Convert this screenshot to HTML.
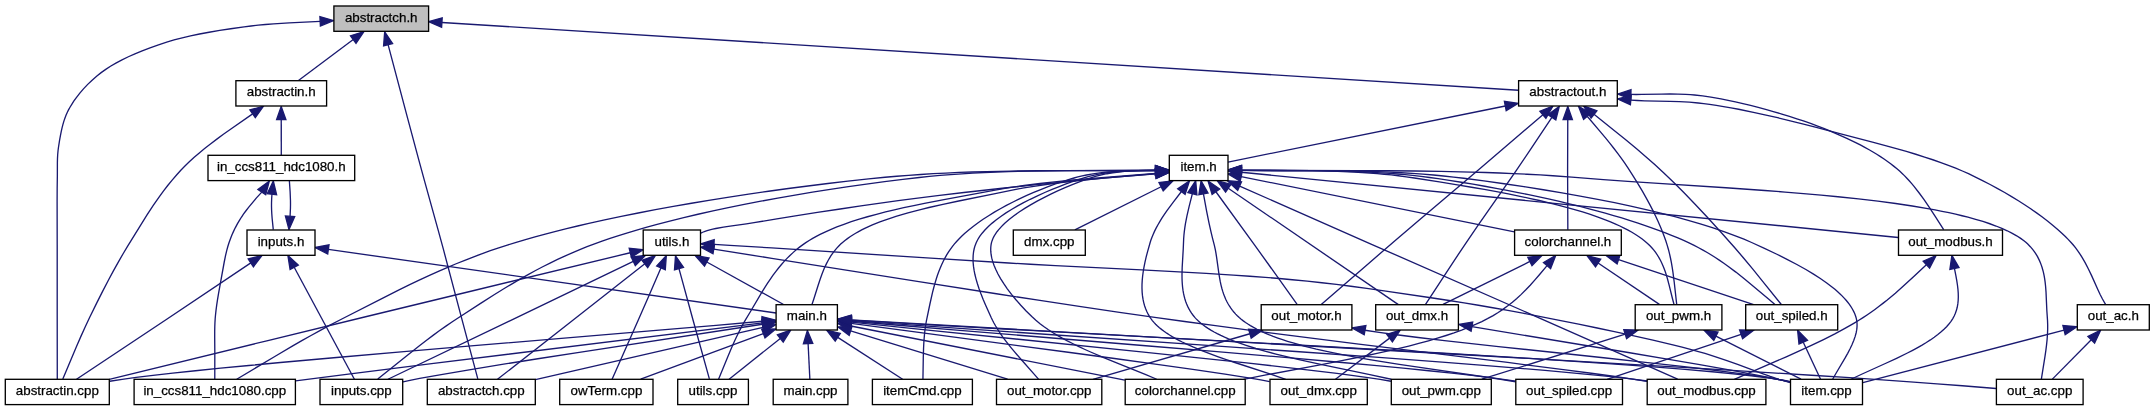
<!DOCTYPE html><html><head><meta charset="utf-8"><style>html,body{margin:0;padding:0;background:#fff;}svg{display:block;}text{font-family:"Liberation Sans",sans-serif;font-size:13.33px;fill:#000;stroke:#000;stroke-width:0.25px;}svg{will-change:transform;}</style></head><body>
<svg width="2155" height="411" viewBox="0 0 2155 411">
<rect width="2155" height="411" fill="#fff"/>
<g fill="none" stroke="#191970" stroke-width="1.33"><path d="M353.25,39.54 298.47,80.44"/><path d="M441.91,22.49 1518.5,90.22"/><path d="M320.15,21.3 289.28,22.84 273.58,23.82 265.41,24.48 258.25,25.17 251.09,25.98 244.1,26.89 230.79,28.76 219.72,30.45 209.09,32.24 199.51,34.02 190.54,35.89 182.22,37.83 174.1,39.95 166.7,42.13 158.5,44.84 150.04,47.84 142.17,50.84 134.93,53.82 128.36,56.75 121.99,59.84 115.88,63.1 110.47,66.27 105.74,69.34 101.15,72.64 96.6,76.26 91.85,80.41 87.71,84.38 83.47,88.87 79.83,93.09 76.17,97.8 73.92,100.98 72.08,103.78 70.13,106.99 68.51,109.92 67.35,112.25 66.1,115.09 64.98,117.98 63.98,120.9 62.95,124.34 62.05,127.81 61.26,131.29 60.47,135.27 59.6,140.2 58.45,147.51 58.01,150.97 57.68,154.8 57.48,158.56 57.38,162.8 57.35,175.99 57.17,188.67 57.11,201.17 57.2,244.99 57.2,313.92 57.28,378.95"/><path d="M388.08,44.65 407.59,118.06 418.37,158.31 424.72,181.58 438.03,229.57 443.56,249.94 461.01,315.88 477.81,378.91"/><path d="M281.24,119.69 281.28,154.97"/><path d="M252.62,113.86 230.91,128.97 223.4,134.33 216.85,139.13 210.45,143.98 204.6,148.58 199.31,152.93 194.2,157.34 189.3,161.81 184.94,166.03 180.8,170.3 176.55,174.95 172.15,180.06 167.93,185.23 163.58,190.86 159.41,196.55 153.43,205.17 147.18,214.7 141.14,224.3 127.66,246.14 122.96,253.99 118.16,262.31 113.26,271.11 108.51,279.95 102.97,290.59 96.91,302.61 89.48,317.79 85.16,326.94 81.02,336.12 76.6,346.26 62.82,379.08"/><path d="M1505.3,105.99 1228.03,162.05"/><path d="M1567.77,119.69 1567.6,171.01 1567.84,229.64"/><path d="M1630.89,94.42 1636.15,94.47 1641.85,94.45 1661.57,94.1 1669.94,94.03 1677.97,94.12 1685.64,94.39 1690.33,94.68 1694.55,95.01 1702.61,95.89 1710.92,97.12 1720.95,98.9 1728.09,100.32 1735.42,101.89 1742.92,103.6 1750.53,105.44 1758.21,107.4 1766.45,109.61 1774.17,111.78 1781.84,114.04 1789.42,116.38 1796.87,118.78 1804.16,121.23 1811.24,123.72 1817.62,126.07 1823.75,128.45 1829.19,130.66 1836.07,133.59 1846.84,138.4 1856.23,142.9 1860.77,145.21 1864.79,147.34 1869.15,149.75 1873,151.98 1876.76,154.27 1880.45,156.61 1884.06,159.03 1887.2,161.23 1890.66,163.78 1893.67,166.12 1896.98,168.83 1899.88,171.34 1902.16,173.43 1904.41,175.64 1906.65,177.95 1909.22,180.76 1911.74,183.67 1914.23,186.66 1919.37,193.25 1924.24,199.95 1929.66,207.85 1935.04,216.09 1943.67,229.68"/><path d="M1542.91,114.72 1478.31,169.95 1418.99,220.24 1396.12,239.74 1366.9,264.91 1321.23,304.55"/><path d="M1551.9,117.37 1531.22,148.43 1516.02,170.9 1504.9,186.99 1478.67,224.49 1465.92,243.09 1458.34,254.38 1450.28,266.53 1425.54,304.32"/><path d="M1587.18,116.3 1600.65,132.08 1605.51,137.91 1609.95,143.37 1613.98,148.47 1617.9,153.6 1621.39,158.36 1624.77,163.16 1628.28,168.43 1633.84,177.14 1638.17,184.15 1642.37,191.21 1646.16,197.87 1649.57,204.12 1652.82,210.4 1655.69,216.25 1658,221.23 1660.18,226.22 1662.24,231.23 1664.16,236.25 1665.79,240.83 1667.17,245.09 1668.43,249.45 1669.54,253.84 1670.52,258.25 1671.39,262.68 1672.24,267.61 1672.99,272.57 1674.26,282.51 1676.71,304.43"/><path d="M1593.99,114.34 1612.93,129.4 1625.11,139.24 1636.3,148.5 1646.11,156.89 1655.28,165.04 1664.12,173.27 1674.04,182.82 1684.05,192.82 1695.56,204.71 1707.8,217.78 1721.44,232.77 1735,248.01 1743.53,257.98 1752.83,269.18 1762.27,280.82 1781.3,304.53"/><path d="M1630.83,100.06 1637.57,100.49 1644.69,100.79 1669.89,101.35 1679.43,101.67 1689.23,102.21 1698.25,102.97 1703.69,103.58 1709.62,104.36 1716.3,105.35 1723.58,106.54 1731.02,107.85 1738.6,109.27 1754.61,112.54 1766.02,115.05 1777.58,117.72 1790.26,120.78 1803.52,124.09 1816.28,127.38 1838.89,133.34 1872.47,142.08 1885.43,145.54 1896.41,148.58 1906.37,151.44 1915.77,154.26 1924.58,157.03 1932.8,159.75 1940.89,162.57 1948.36,165.33 1955.68,168.2 1962.38,171 1968.48,173.7 1974.47,176.53 1982.54,180.55 1990.12,184.49 1997.67,188.58 2004.68,192.54 2011.6,196.61 2018.4,200.78 2024.62,204.76 2030.69,208.8 2036.59,212.91 2042.3,217.07 2047.8,221.27 2052.69,225.21 2057.71,229.48 2062.13,233.47 2065.35,236.54 2068.41,239.62 2071.3,242.7 2073.51,245.24 2075.62,247.87 2077.95,251.03 2079.84,253.8 2081.93,257.1 2084.99,262.39 2088.28,268.69 2091.72,275.89 2097.93,289.76 2100.13,294.49 2102.46,299.05 2105.67,304.6"/><path d="M271.95,194.25 271.68,198.48 271.53,202.49 271.5,206 271.6,210.01 271.81,214.02 272.15,218.54 273.28,229.6"/><path d="M290.08,216.31 290.45,208 290.5,204.5 290.47,200.49 290.13,191.98 289.38,180.99"/><path d="M261.79,192.11 256.25,198.11 248.58,207.42 245.98,210.77 243.44,214.21 241.36,217.25 239.74,219.83 237.49,223.69 235.39,227.58 233.65,231.13 232,234.8 230.46,238.65 229,242.7 227.9,246.21 226.77,250.38 225.52,255.71 224.19,262.25 218.48,293.89 217.48,299.85 216.66,305.33 216.01,310.31 215.48,315.3 215.18,318.8 214.94,322.81 214.79,326.83 214.71,331.36 214.7,337.41 214.81,351.99 214.78,379.01"/><path d="M328.36,249.39 776.1,312.97"/><path d="M250.82,262.91 167.1,319 76.51,379.23"/><path d="M294.19,267.23 354.4,379.19"/><path d="M1155.75,173.91 1143.69,174.93 1115.27,177.17 1103.27,178.2 1067.34,181.6 1034.17,184.9 1004.52,188.01 963.88,192.5 937.53,195.59 913.74,198.57 898.17,200.65 880.41,203.12 860.91,205.92 840.21,208.99 817.37,212.46 795.35,215.9 776.84,218.89 754.04,222.67 746.38,223.81 730.13,226.09 723.4,227.12 715.79,228.5 712.72,229.16 709.84,229.87 707.14,230.64 705,231.35 702.71,232.25 700.93,233.08"/><path d="M1155.81,173.7 1104,178.1 1088.42,179.56 1074.92,180.95 1061.01,182.54 1047.71,184.26 1035.5,186.05 1023.89,187.96 1017.18,189.18 1010.99,190.38 994.01,193.89 958.7,201.01 942.94,204.34 928.93,207.52 921.5,209.32 914.68,211.06 907.98,212.87 901.9,214.6 895.94,216.41 890.13,218.29 884.93,220.08 879.88,221.94 872.36,224.96 868.55,226.63 865.26,228.17 861.67,229.95 858.6,231.58 855.63,233.26 852.78,234.99 850.04,236.77 847.43,238.6 844.94,240.48 842.87,242.18 840.7,244.11 838.8,245.96 837.01,247.87 835.33,249.82 833.74,251.83 832.24,253.88 830.83,255.97 829.24,258.54 828,260.72 826.61,263.38 825.3,266.09 824.08,268.84 822.01,273.97 819.97,279.67 818.08,285.44 813.98,298.52 812.06,304.28"/><path d="M1161.12,186.74 1074.86,229.89"/><path d="M1241.09,176.59 1514.44,231.86"/><path d="M1241.22,172.23 1898.25,237.48"/><path d="M1215.9,191.76 1254.67,245.12 1297.13,304.27"/><path d="M1228.22,188.25 1398.39,304.6"/><path d="M1241.45,170.43 1289.61,170.55 1304.61,170.65 1322.12,170.9 1337.63,171.32 1354.15,172.03 1362.17,172.49 1369.68,173 1377.2,173.6 1384.23,174.23 1391.25,174.95 1398.28,175.76 1406.32,176.8 1414.37,177.97 1439.38,181.92 1457.39,184.84 1471.55,187.22 1484.28,189.45 1496.55,191.7 1508.29,193.95 1518.89,196.08 1529.43,198.31 1539.31,200.51 1549.05,202.81 1558.1,205.08 1566.45,207.29 1574.61,209.59 1582.57,211.97 1588.85,213.97 1594.51,215.87 1600.01,217.83 1605.34,219.84 1610.5,221.9 1615.06,223.84 1619.85,226.01 1624.05,228.05 1628.08,230.14 1631.91,232.28 1635.54,234.47 1638.97,236.71 1642.18,239.01 1644.91,241.15 1647.55,243.43 1649.95,245.75 1651.81,247.73 1653.87,250.18 1655.77,252.68 1657.5,255.25 1659.09,257.86 1660.54,260.53 1661.86,263.24 1663.27,266.45 1664.37,269.25 1665.37,272.08 1666.45,275.41 1667.45,278.77 1669.13,285.08 1672.5,298.75 1674.07,304.57"/><path d="M1241.41,170.4 1312.38,170.65 1330.85,170.89 1347.33,171.27 1364.84,171.93 1381.37,172.83 1389.4,173.38 1397.43,174.01 1404.96,174.69 1412.51,175.45 1421.07,176.42 1429.64,177.51 1438.08,178.7 1449.32,180.38 1461.28,182.27 1472.94,184.2 1484.74,186.24 1496.14,188.31 1507.09,190.37 1518.1,192.53 1528.59,194.67 1539.09,196.9 1549.56,199.21 1559.46,201.47 1569.31,203.81 1579.07,206.22 1588.23,208.56 1596.79,210.84 1605.24,213.16 1613.57,215.54 1621.77,217.98 1629.36,220.31 1637.26,222.85 1644.54,225.28 1651.66,227.76 1658.61,230.28 1665.37,232.84 1671.52,235.29 1677.89,237.94 1683.66,240.46 1689.02,242.92 1694.17,245.42 1698.65,247.73 1702.99,250.1 1707.21,252.52 1711.32,254.98 1715.31,257.49 1719.63,260.33 1723.83,263.21 1728.33,266.43 1735.86,272.1 1744.26,278.78 1752.07,285.24 1768.24,298.86 1774.95,304.4"/><path d="M1155.8,170.28 1125.83,170.49 1064.23,170.61 1038.38,170.74 1010.98,171.06 986.51,171.56 972.49,171.97 958.94,172.46 945.86,173.04 933.26,173.7 920.63,174.47 908.47,175.32 896.78,176.24 885.06,177.28 868.57,178.93 847.93,181.18 827.84,183.51 807.94,185.97 788.3,188.53 768.5,191.25 748.59,194.13 729.16,197.08 710.29,200.09 691.5,203.22 673.37,206.39 655.42,209.68 638.2,212.98 621.26,216.39 604.63,219.9 588.84,223.39 577.6,226 566.58,228.64 555.8,231.34 545.27,234.08 535.02,236.86 525.46,239.56 516.19,242.31 507.31,245.06 498.72,247.86 490.33,250.73 481.62,253.84 473.11,257.02 464.78,260.26 456.15,263.75 447.7,267.31 438.95,271.11 429.46,275.38 419.71,279.92 409.69,284.72 398.53,290.2 383.3,297.86 341.82,318.99 327.56,326.44 319.46,330.83 311.02,335.5 302.26,340.45 292.73,345.94 275.22,356.24 236.69,379.22"/><path d="M1155.82,170.33 1132.31,170.49 1079.62,170.6 1056.25,170.72 1031.34,171.05 1008.87,171.59 996.36,172.02 984.33,172.53 972.78,173.13 961.71,173.8 950.62,174.59 940.01,175.45 929.38,176.43 919.23,177.48 902.89,179.38 884.59,181.67 866.4,184.1 848.42,186.65 830.22,189.37 812.41,192.19 795.06,195.07 777.71,198.1 760.94,201.18 744.27,204.4 728.29,207.64 713.02,210.89 697.98,214.25 683.72,217.61 669.76,221.06 656.15,224.62 646.08,227.38 636.7,230.06 627.55,232.8 618.65,235.58 610.02,238.41 602.06,241.15 594.54,243.87 587.06,246.71 579.78,249.63 572.18,252.83 564.78,256.1 557.56,259.43 550.05,263.06 542.72,266.76 535.56,270.51 528.13,274.57 520,279.16 512.04,283.81 503.4,289.02 494.52,294.52 481,303.11 457.66,318.2 451.95,321.97 445.94,326.09 439.63,330.54 433.03,335.35 426.57,340.19 419.42,345.69 406.18,356.16 377.76,379.1"/><path d="M1155.79,173.38 1091.88,178.39 1073.3,180.02 1056.82,181.63 1039.96,183.5 1024.22,185.51 1009.13,187.71 995.17,190.04 945.28,199.35 924.45,203.38 913.8,205.56 903.75,207.71 894.33,209.85 885.56,211.95 876.43,214.28 867.49,216.74 859.25,219.18 851.24,221.74 843.94,224.28 836.88,226.94 830.51,229.56 824.4,232.31 820.09,234.41 816.31,236.38 812.67,238.41 809.16,240.51 805.8,242.67 802.62,244.87 799.57,247.15 796.22,249.84 793.02,252.62 789.95,255.47 787.01,258.4 784.18,261.4 781.48,264.47 778.55,267.98 775.75,271.56 773.06,275.19 770.19,279.29 767.42,283.43 764.74,287.61 761.62,292.65 750.21,311.98 745.16,320.42 742.89,324.41 740.73,328.43 738.66,332.48 736.45,337 734.13,341.99 731.89,347.01 727.8,356.64 718.56,379.19"/><path d="M1155.52,170.47 1137.4,170.56 1130.32,170.7 1124.27,170.89 1118.24,171.18 1112.73,171.54 1107.25,172.01 1101.79,172.59 1096.36,173.3 1091.45,174.08 1086.57,174.98 1082.2,175.91 1077.86,176.96 1074.03,178 1068.41,179.69 1062.72,181.51 1055.47,183.99 1048.11,186.68 1040.69,189.57 1033.74,192.44 1026.8,195.47 1019.91,198.66 1013.1,201.98 1006.4,205.43 1000.32,208.75 994.39,212.18 988.64,215.69 983.1,219.29 977.8,222.98 973.14,226.44 968.72,229.96 964.57,233.54 961.64,236.25 959.19,238.68 956.59,241.44 954.47,243.88 952.49,246.34 950.32,249.29 948.58,251.86 946.68,254.93 944.91,258.05 943.27,261.23 941.74,264.46 940.13,268.2 938.83,271.51 937.45,275.34 936.18,279.21 934.87,283.6 933.66,288.01 932.42,292.93 929.87,304.24 926.5,320.29 925.71,324.75 925.01,329.72 924.55,333.71 924.15,338.21 923.83,342.71 923.58,347.73 923.29,357.28 922.94,378.94"/><path d="M1155.53,170.47 1146,170.51 1138.41,170.62 1131.35,170.82 1125.32,171.11 1119.32,171.51 1113.36,172.06 1107.93,172.7 1102.54,173.5 1097.68,174.38 1093.33,175.3 1089.02,176.35 1084.75,177.55 1079.15,179.34 1072.44,181.63 1065.98,183.96 1059.86,186.28 1052.09,189.4 1044.76,192.51 1037.45,195.81 1030.21,199.28 1023.61,202.65 1017.2,206.15 1011.48,209.49 1006,212.93 1000.81,216.45 996.34,219.76 992.18,223.12 988.36,226.54 984.91,230.02 982.13,233.22 979.71,236.45 978.64,238.08 977.68,239.71 976.2,242.67 975.05,245.67 974.17,248.77 973.55,251.95 973.18,255.22 973.04,259.04 973.14,262.45 973.5,266.41 974.11,270.44 974.92,274.51 976.07,279.12 977.43,283.76 978.97,288.41 980.86,293.56 983.09,299.18 985.66,305.23 991.29,317.75 992.5,320.25 993.79,322.74 995.64,326.02 997.87,329.69 999.97,332.92 1002.48,336.53 1005.11,340.12 1007.84,343.68 1011,347.61 1014.58,351.92 1020.98,359.31 1038.51,379.08"/><path d="M1155.43,170.48 1145.83,170.55 1138.22,170.72 1131.16,171.02 1124.64,171.45 1118.68,172.02 1112.76,172.77 1106.9,173.72 1101.58,174.81 1096.33,176.11 1091.61,177.51 1086.06,179.4 1079.35,181.88 1072.32,184.63 1065.06,187.65 1058.2,190.67 1051.3,193.89 1043.9,197.55 1037.14,201.11 1030.57,204.82 1024.73,208.36 1019.16,211.99 1013.92,215.71 1009.08,219.49 1005.03,223.02 1002.99,224.96 1001.4,226.58 998.5,229.84 997.21,231.48 996.02,233.13 994.95,234.77 993.99,236.42 993.16,238.06 992.45,239.71 991.87,241.36 991.5,242.67 991.17,244.23 990.93,245.81 990.78,247.43 990.72,249.48 990.77,251.15 990.94,253.27 991.18,254.99 991.58,257.17 991.99,258.93 992.61,261.15 993.99,265.21 995.7,269.33 997.97,273.95 1000.57,278.6 1003.79,283.72 1007.32,288.82 1011.49,294.32 1015.92,299.73 1020.55,305 1026.13,310.93 1031.79,316.55 1035.87,320.3 1040.02,323.72 1043.76,326.53 1048.06,329.53 1052.2,332.22 1056.91,335.09 1061.82,337.89 1067.33,340.87 1073.03,343.78 1078.9,346.64 1084.45,349.23 1090.59,352 1103.7,357.64 1116.64,362.96 1145.83,374.74 1156.76,379.25"/><path d="M1181.43,191.51 1172.74,202.82 1166.97,210.7 1164.38,214.46 1161.89,218.23 1159.8,221.6 1157.82,224.98 1155.98,228.39 1154.49,231.38 1153.13,234.39 1151.89,237.43 1150.94,240.04 1150.23,242.23 1147.44,252.05 1146.13,257.14 1144.94,262.32 1143.99,267.02 1143.2,271.75 1142.64,275.96 1142.24,280.16 1142.01,284.34 1141.98,287.98 1142.14,292.09 1142.47,295.64 1143,299.14 1143.72,302.59 1144.67,305.96 1145.66,308.79 1147.04,312.02 1148.42,314.71 1149.72,316.9 1150.93,318.69 1152.35,320.56 1153.92,322.4 1155.62,324.2 1157.46,325.96 1159.43,327.7 1161.83,329.64 1164.05,331.31 1166.74,333.18 1169.58,335.02 1172.55,336.81 1175.66,338.58 1178.89,340.31 1182.24,342.02 1186.14,343.9 1192.94,346.96 1200.56,350.14 1209.01,353.42 1218.29,356.81 1226.24,359.59 1234.87,362.5 1270.59,374.19 1285.72,379.3"/><path d="M1192.38,193.68 1189.15,206.3 1187.01,215.63 1186.12,220.05 1185.41,223.98 1184.8,227.91 1184.28,231.85 1183.93,235.29 1183.67,238.73 1183.26,248.66 1182.19,267.21 1182,274.5 1182.03,278.13 1182.13,281.23 1182.32,284.3 1182.61,287.36 1183.01,290.39 1183.53,293.39 1184.19,296.35 1184.84,298.78 1185.77,301.66 1186.66,304.03 1187.68,306.35 1188.83,308.64 1190.1,310.88 1191.52,313.08 1193.08,315.23 1194.8,317.33 1196.43,319.11 1198.42,321.06 1200.58,322.97 1202.91,324.83 1205.4,326.64 1208.05,328.41 1210.84,330.14 1214.12,332.01 1217.22,333.66 1220.82,335.44 1224.59,337.17 1228.51,338.86 1232.59,340.51 1236.8,342.12 1241.15,343.7 1246.09,345.38 1255.92,348.49 1265.73,351.32 1275.93,354.05 1287.54,356.93 1300.03,359.85 1321.83,364.63 1369.83,374.63 1391.21,379.24"/><path d="M1203.45,193.9 1206.56,210.83 1209.03,223.11 1211.12,232.42 1212.43,237.79 1214.31,245.08 1215.37,249.96 1215.99,253.41 1216.62,257.39 1219,274.44 1220.22,281.41 1220.96,284.86 1221.82,288.27 1222.66,291.17 1223.62,294.04 1224.7,296.87 1225.71,299.2 1226.82,301.49 1228.04,303.76 1229.38,305.99 1230.85,308.18 1232.45,310.34 1233.83,312.03 1235.7,314.1 1237.3,315.73 1239.21,317.52 1241.19,319.21 1243.31,320.86 1245.54,322.48 1247.91,324.06 1250.39,325.6 1253.59,327.44 1256.97,329.23 1260.51,330.98 1264.56,332.82 1268.79,334.62 1273.21,336.36 1277.81,338.05 1282.57,339.69 1287.5,341.28 1293.02,342.96 1298.27,344.46 1304.11,346.04 1316.29,349.06 1330.04,352.13 1342.3,354.63 1355.48,357.11 1369.57,359.58 1385.11,362.13 1399.24,364.34 1414.7,366.67 1483.53,376.72 1500.59,379.34 1515.67,381.78"/><path d="M1239.62,186.1 1371.56,244.28 1535.06,316.12 1677.63,379.21"/><path d="M1241.4,170.36 1263.96,170.5 1312.76,170.6 1332.19,170.73 1356.64,171.1 1378.13,171.7 1389.65,172.16 1401.19,172.74 1412.24,173.4 1422.81,174.15 1433.4,175.02 1443.5,175.98 1453.62,177.06 1463.76,178.28 1483.88,180.92 1504.17,183.75 1523.89,186.67 1543.39,189.74 1562,192.84 1580.12,196.05 1597.66,199.34 1614.54,202.7 1630.69,206.12 1646.08,209.59 1660.65,213.08 1674.87,216.71 1688.21,220.36 1701.12,224.14 1713.1,227.91 1724.57,231.81 1734.71,235.53 1743.96,239.21 1751.64,242.51 1764.46,248.34 1776.36,253.99 1787.01,259.29 1796.87,264.48 1805.88,269.52 1813.53,274.11 1820.34,278.5 1826.74,282.97 1832.31,287.21 1834.93,289.36 1837.43,291.52 1839.81,293.7 1842.06,295.89 1844.18,298.1 1845.89,300.01 1847.75,302.25 1849.22,304.18 1850.58,306.12 1851.63,307.75 1852.77,309.71 1853.63,311.36 1854.55,313.34 1855.22,315 1855.9,317 1856.34,318.61 1856.69,320.32 1856.92,322.05 1857.04,323.8 1857.06,325.56 1856.97,327.34 1856.79,329.13 1856.51,330.93 1856.15,332.75 1855.18,336.41 1853.73,340.58 1851.97,344.8 1849.94,349.05 1847.69,353.33 1845.28,357.63 1836.19,373.01 1832.65,379.24"/><path d="M1241.38,170.2 1283.21,170.49 1358.04,170.63 1386.31,170.75 1414.64,170.98 1440.55,171.35 1471.05,172.04 1485.61,172.49 1499.69,173 1513.31,173.57 1526.97,174.23 1540.15,174.95 1552.87,175.73 1571.77,177.05 1603.43,179.59 1627.86,181.37 1654.65,183.17 1725.93,187.78 1764.73,190.49 1785.04,192.04 1803.45,193.54 1821.1,195.1 1837.95,196.72 1858.47,198.88 1877.91,201.18 1895.68,203.53 1912.3,206 1927.76,208.59 1934.99,209.92 1942.05,211.29 1948.92,212.72 1955.6,214.19 1962.09,215.73 1967.95,217.21 1975.61,219.29 1982.9,221.47 1989.82,223.75 1996.01,226 2001.83,228.34 2007.26,230.78 2012.29,233.32 2016.67,235.8 2020.67,238.38 2024.27,241.05 2025.83,242.34 2027.51,243.85 2030.32,246.69 2032.83,249.63 2034.14,251.35 2035.36,253.1 2036.48,254.88 2037.53,256.69 2039.38,260.37 2040.39,262.72 2041.29,265.1 2042.1,267.52 2042.93,270.45 2043.54,272.91 2044.16,275.9 2044.68,278.92 2045.1,281.95 2045.6,286.53 2046.02,292.16 2046.84,310.43 2047.51,320.29 2047.68,324.75 2047.67,329.21 2047.48,334.17 2047.09,339.64 2046.52,345.12 2045.9,350.1 2045.03,356.08 2041.37,379.04"/><path d="M706.78,261.97 783.59,304.48"/><path d="M630.25,252.74 464.69,292.73 365.62,316.74 266.8,340.81 109.32,379.29"/><path d="M633.3,261.31 514.49,318.63 387.97,379.23"/><path d="M644.84,263.84 574.13,319.19 497.49,379.3"/><path d="M661.02,267.81 647.95,297.98 638.29,320.08 612.09,379.17"/><path d="M678.98,268.62 693.1,320.24 709.37,378.91"/><path d="M714.03,244.4 729.84,245.3 771.7,247.93 930.72,258.16 1008.65,263.02 1030.39,264.26 1055.4,265.59 1141.62,269.93 1174.3,271.63 1206.13,273.42 1233.27,275.1 1249.84,276.24 1265.3,277.39 1279.21,278.53 1292.35,279.72 1307.19,281.19 1321.86,282.76 1336.4,284.45 1350.86,286.25 1366.76,288.36 1384.11,290.79 1432.65,298 1449.07,300.52 1464.08,302.91 1478.43,305.27 1492.79,307.73 1507.85,310.41 1522.83,313.19 1536.81,315.88 1558.22,320.1 1578.6,324.18 1597.15,327.98 1614.38,331.59 1630.53,335.08 1652.96,340.13 1672.87,344.88 1682.07,347.19 1690.44,349.38 1698.38,351.55 1704.99,353.45 1715.7,356.8 1726.92,360.61 1737.61,364.47 1760.32,372.93 1770.2,376.44 1779,379.3 1790.43,382.63"/><path d="M713.76,249.19 771.81,258.33 917.24,281.4 996.38,293.77 1039.9,300.44 1080.94,306.61 1119.5,312.29 1156.59,317.61 1184.63,321.52 1215.41,325.68 1248.82,330.08 1285.81,334.85 1356.84,343.79 1507.58,362.46 1565.36,369.8 1591.29,373.22 1613.25,376.24 1631.05,378.82 1646.97,381.29"/><path d="M762.44,321.28 716.12,325.31 662.14,329.92 474.03,345.7 403.93,351.64 336.55,357.48 280.35,362.53 248.81,365.47 220.65,368.2 195.4,370.74 172.71,373.15 152.98,375.39 136.15,377.44 122.13,379.33 109.74,381.22"/><path d="M762.61,322.81 431.68,363.69 350.37,373.89 295.53,380.96"/><path d="M762.49,324.26 579.24,352.32 537.82,358.76 503.64,364.17 469.15,369.79 441.22,374.55 419.72,378.47 411.13,380.16 403,381.86"/><path d="M763.06,327.36 535.47,379.57"/><path d="M763.33,333.53 640.66,379.23"/><path d="M780.28,338.44 729.09,379.19"/><path d="M808.11,343.67 809.85,378.97"/><path d="M837.75,337.32 902.64,379.24"/><path d="M850.62,330.83 1007.6,379.19"/><path d="M850.8,326.01 1124.83,380.09"/><path d="M851.11,323.36 907.56,330.92 1068.14,352.23 1114.54,358.49 1153.43,363.83 1192.78,369.4 1225.03,374.17 1250.22,378.15 1260.72,379.94 1269.68,381.56"/><path d="M851.17,322.06 930.47,330.29 1141.29,351.8 1198.57,357.79 1246.47,362.95 1272.77,365.87 1296.54,368.59 1317.79,371.1 1336.91,373.46 1353.52,375.62 1368,377.63 1380.11,379.45 1390.93,381.24"/><path d="M851.14,321.22 898.5,325.26 953.58,329.88 1145.74,345.73 1216.97,351.66 1284.88,357.45 1342.11,362.5 1374.13,365.44 1403.18,368.2 1428.82,370.74 1451.87,373.15 1471.92,375.38 1489.04,377.44 1503.3,379.33 1515.7,381.19"/><path d="M851.11,320.6 909.58,324.8 977.69,329.58 1211.16,345.63 1295.89,351.52 1375.53,357.2 1442.14,362.14 1480.42,365.09 1514.42,367.82 1545.01,370.4 1571.81,372.79 1595.56,375.06 1615.88,377.17 1632.83,379.13 1647.09,381.02"/><path d="M851.13,320.1 921.89,324.3 1005.39,329.04 1088.35,333.61 1292.45,344.7 1394.69,350.4 1444.12,353.25 1488.6,355.89 1529.73,358.42 1567,360.81 1611.36,363.81 1650.52,366.66 1684.92,369.38 1714.91,372.02 1728.15,373.29 1740.15,374.53 1751.18,375.75 1761.23,376.97 1769.83,378.13 1777.47,379.27 1784.59,380.49 1790.45,381.64"/><path d="M850.94,319.88 1009.76,328.97 1477.32,355.48 1609.58,363.12 1716.42,369.42 1811.43,375.24 1849.73,377.69 1882.23,379.85 1910.27,381.82 1937.05,383.8 1962.3,385.77 1996.09,388.52"/><path d="M1529.9,261.47 1443.05,304.44"/><path d="M1598.07,263.04 1659.37,304.42"/><path d="M1618.56,259.57 1753.69,304.65"/><path d="M1547.06,265.57 1539.4,274.72 1534.72,280.16 1530.21,285.2 1525.84,289.82 1521.25,294.37 1516.76,298.49 1512.41,302.2 1507.8,305.83 1502.9,309.37 1498.17,312.5 1493.16,315.55 1487.46,318.7 1481.83,321.53 1475.55,324.43 1468.94,327.23 1461.64,330.08 1454.01,332.84 1446.08,335.5 1437.43,338.21 1428.47,340.83 1418.78,343.48 1408.81,346.06 1398.09,348.67 1387.12,351.21 1376.96,353.45 1366.11,355.76 1341.85,360.65 1318.72,365.09 1266.08,374.97 1243.55,379.32"/><path d="M1926.37,264.65 1912.98,277.28 1903.94,285.6 1895.37,293.15 1887.23,299.95 1883.22,303.14 1879.11,306.29 1874.9,309.41 1871.02,312.19 1867.03,314.93 1863.03,317.57 1858.86,320.22 1854.19,323.06 1849.81,325.64 1844.92,328.41 1834.85,333.84 1823.52,339.58 1811.38,345.41 1799.4,350.93 1786.25,356.79 1734.31,379.32"/><path d="M1954.44,268.49 1955.78,275.16 1956.73,280.34 1957.44,284.97 1957.93,289.06 1958.23,293.1 1958.31,297.09 1958.18,300.53 1957.82,303.93 1957.23,307.26 1956.5,310.08 1955.39,313.3 1954.19,316 1952.79,318.58 1950.98,321.34 1948.91,324.05 1946.58,326.69 1944,329.28 1940.88,332.09 1937.84,334.57 1934.23,337.28 1930.39,339.93 1926.33,342.53 1921.65,345.34 1916.76,348.1 1912.15,350.57 1907.41,353.01 1896.58,358.3 1885.89,363.26 1861.07,374.51 1850.94,379.25"/><path d="M1249.93,333.75 1092.97,379.3"/><path d="M1365.05,330.23 1379.1,332.39 1396.57,334.77 1418.17,337.48 1444.46,340.56 1469.29,343.36 1498.5,346.55 1603.62,357.78 1643.08,362.06 1679.84,366.17 1710.46,369.78 1738.45,373.32 1750.18,374.93 1760.42,376.42 1768.89,377.76 1776.29,379.04 1783.39,380.42 1790.14,381.88"/><path d="M1389.6,338.14 1335.48,379.25"/><path d="M1471.9,326.61 1628.2,352.51 1667.31,359.1 1699.69,364.67 1730.6,370.16 1755.73,374.85 1765.98,376.87 1775.13,378.75 1782.63,380.39 1789.95,382.08"/><path d="M1625.22,334.1 1481.87,379.23"/><path d="M1715.89,336.19 1801.01,379.14"/><path d="M1741.09,334.31 1607.07,379.26"/><path d="M1803.27,342.16 1820.56,379.25"/><path d="M2091.27,339.69 2052.38,379.14"/><path d="M2064.07,330.15 1862.83,382.54"/></g>
<g fill="#191970" stroke="#191970" stroke-width="1.33"><polygon points="363.9,31.6 356,43.3 350.5,35.8"/><polygon points="428.6,21.7 442.2,17.8 441.6,27.2"/><polygon points="333.5,20.6 320.4,26 319.9,16.6"/><polygon points="384.7,31.8 392.6,43.5 383.6,45.8"/><polygon points="281.2,106.4 285.9,119.7 276.6,119.7"/><polygon points="263.5,106.2 255.3,117.7 249.9,110"/><polygon points="1518.4,103.3 1506.2,110.6 1504.4,101.4"/><polygon points="1567.8,106.4 1572.4,119.7 1563.1,119.7"/><polygon points="1617.6,94.1 1631,89.7 1630.8,99.1"/><polygon points="1553,106 1545.9,118.3 1539.9,111.2"/><polygon points="1559.3,106.3 1555.8,120 1548,114.8"/><polygon points="1578.5,106.2 1590.7,113.3 1583.6,119.3"/><polygon points="1583.6,106 1596.9,110.7 1591.1,118"/><polygon points="1617.6,98.9 1631.2,95.4 1630.4,104.7"/><polygon points="273.3,181 276.6,194.7 267.3,193.8"/><polygon points="289,229.6 285.4,215.9 294.7,216.7"/><polygon points="269.3,181.1 265.7,194.7 257.9,189.5"/><polygon points="315.2,247.5 329,244.8 327.7,254"/><polygon points="261.9,255.5 253.4,266.8 248.2,259"/><polygon points="287.9,255.5 298.3,265 290.1,269.4"/><polygon points="1169,172.5 1156.2,178.6 1155.3,169.3"/><polygon points="1169.1,172.5 1156.2,178.3 1155.4,169"/><polygon points="1173,180.8 1163.2,190.9 1159,182.6"/><polygon points="1228,173.9 1242,172 1240.2,181.2"/><polygon points="1228,170.9 1241.7,167.6 1240.8,176.9"/><polygon points="1208.1,181 1219.7,189 1212.1,194.5"/><polygon points="1217.2,180.7 1230.9,184.4 1225.6,192.1"/><polygon points="1228.1,170.3 1241.5,165.8 1241.4,175.1"/><polygon points="1228.1,170.2 1241.5,165.7 1241.4,175.1"/><polygon points="1169.1,170.1 1155.9,175 1155.7,165.6"/><polygon points="1169.1,170.2 1155.9,175 1155.8,165.7"/><polygon points="1169.1,172.3 1156.2,178 1155.4,168.7"/><polygon points="1168.9,170.4 1155.5,175.1 1155.5,165.8"/><polygon points="1168.9,170.5 1155.5,175.1 1155.5,165.8"/><polygon points="1168.8,170.5 1155.4,175.2 1155.4,165.8"/><polygon points="1189.5,180.9 1185.1,194.3 1177.7,188.7"/><polygon points="1195.7,180.8 1196.9,194.8 1187.9,192.5"/><polygon points="1201.1,180.8 1208,193.1 1198.9,194.7"/><polygon points="1227.4,180.7 1241.5,181.8 1237.7,190.4"/><polygon points="1228.1,170.2 1241.5,165.7 1241.3,175"/><polygon points="1228,170 1241.4,165.5 1241.3,174.9"/><polygon points="695.1,255.5 709,257.9 704.5,266.1"/><polygon points="643.2,249.6 631.4,257.3 629.2,248.2"/><polygon points="645.3,255.5 635.3,265.5 631.3,257.1"/><polygon points="655.3,255.6 647.7,267.5 642,260.2"/><polygon points="666.3,255.6 665.3,269.7 656.7,266"/><polygon points="675.5,255.8 683.5,267.4 674.5,269.8"/><polygon points="700.7,243.8 714.2,239.7 713.8,249.1"/><polygon points="700.6,247.1 714.5,244.6 713,253.8"/><polygon points="775.7,320.1 762.9,325.9 762,316.6"/><polygon points="775.8,321.2 763.2,327.4 762,318.2"/><polygon points="775.7,322.2 763.2,328.9 761.8,319.6"/><polygon points="776.1,324.4 764.1,331.9 762,322.8"/><polygon points="775.8,328.9 765,337.9 761.7,329.1"/><polygon points="790.7,330.1 783.2,342.1 777.4,334.8"/><polygon points="807.4,330.4 812.8,343.4 803.4,343.9"/><polygon points="826.6,330.1 840.3,333.4 835.2,341.2"/><polygon points="837.9,326.9 852,326.4 849.2,335.3"/><polygon points="837.7,323.4 851.7,321.4 849.9,330.6"/><polygon points="837.9,321.6 851.7,318.7 850.5,328"/><polygon points="837.9,320.7 851.7,317.4 850.7,326.7"/><polygon points="837.9,320.1 851.5,316.6 850.7,325.9"/><polygon points="837.8,319.6 851.5,315.9 850.8,325.3"/><polygon points="837.8,319.3 851.4,315.4 850.8,324.8"/><polygon points="837.6,319.1 851.2,315.2 850.7,324.5"/><polygon points="1541.9,255.6 1532,265.7 1527.8,257.3"/><polygon points="1587,255.6 1600.7,259.2 1595.5,266.9"/><polygon points="1605.9,255.4 1620,255.1 1617.1,264"/><polygon points="1555.7,255.4 1550.6,268.6 1543.5,262.5"/><polygon points="1936.1,255.5 1929.6,268.1 1923.2,261.2"/><polygon points="1951.9,255.4 1959,267.6 1949.9,269.4"/><polygon points="1262.7,330 1251.2,338.2 1248.6,329.3"/><polygon points="1351.9,327.9 1365.9,325.6 1364.2,334.8"/><polygon points="1400.2,330.1 1392.4,341.9 1386.8,334.4"/><polygon points="1458.8,324.4 1472.7,322 1471.1,331.2"/><polygon points="1637.9,330.1 1626.6,338.6 1623.8,329.6"/><polygon points="1704,330.2 1718,332 1713.8,340.4"/><polygon points="1753.7,330.1 1742.6,338.7 1739.6,329.9"/><polygon points="1797.6,330.1 1807.5,340.2 1799,344.1"/><polygon points="2100.6,330.2 2094.6,343 2087.9,336.4"/><polygon points="2077,326.8 2065.2,334.7 2062.9,325.6"/></g>
<g stroke="#000" stroke-width="1.33">
<rect x="333.9" y="6" width="94.7" height="25.3" fill="#bfbfbf"/>
<rect x="235.9" y="80.7" width="90.7" height="25.3" fill="#fff"/>
<rect x="1518.6" y="80.7" width="98.7" height="25.3" fill="#fff"/>
<rect x="208" y="155.3" width="146.7" height="25.3" fill="#fff"/>
<rect x="1169.3" y="155.3" width="58.7" height="25.3" fill="#fff"/>
<rect x="247" y="230" width="68" height="25.3" fill="#fff"/>
<rect x="643.2" y="230" width="57.3" height="25.3" fill="#fff"/>
<rect x="1013.3" y="230" width="72" height="25.3" fill="#fff"/>
<rect x="1514.6" y="230" width="106.7" height="25.3" fill="#fff"/>
<rect x="1898.5" y="230" width="104" height="25.3" fill="#fff"/>
<rect x="776.1" y="304.7" width="61.3" height="25.3" fill="#fff"/>
<rect x="1261.2" y="304.7" width="90.7" height="25.3" fill="#fff"/>
<rect x="1375.7" y="304.7" width="82.7" height="25.3" fill="#fff"/>
<rect x="1635.2" y="304.7" width="86.7" height="25.3" fill="#fff"/>
<rect x="1745.7" y="304.7" width="92" height="25.3" fill="#fff"/>
<rect x="2077.3" y="304.7" width="72" height="25.3" fill="#fff"/>
<rect x="5.3" y="379.3" width="104" height="25.3" fill="#fff"/>
<rect x="134.1" y="379.3" width="161.3" height="25.3" fill="#fff"/>
<rect x="320" y="379.3" width="82.7" height="25.3" fill="#fff"/>
<rect x="427.3" y="379.3" width="108" height="25.3" fill="#fff"/>
<rect x="559.7" y="379.3" width="93.3" height="25.3" fill="#fff"/>
<rect x="677.7" y="379.3" width="70.7" height="25.3" fill="#fff"/>
<rect x="773.2" y="379.3" width="74.7" height="25.3" fill="#fff"/>
<rect x="872.4" y="379.3" width="100" height="25.3" fill="#fff"/>
<rect x="996.5" y="379.3" width="105.3" height="25.3" fill="#fff"/>
<rect x="1125.2" y="379.3" width="120" height="25.3" fill="#fff"/>
<rect x="1270" y="379.3" width="97.3" height="25.3" fill="#fff"/>
<rect x="1391.3" y="379.3" width="100" height="25.3" fill="#fff"/>
<rect x="1515.8" y="379.3" width="106.7" height="25.3" fill="#fff"/>
<rect x="1647.2" y="379.3" width="118.7" height="25.3" fill="#fff"/>
<rect x="1790.5" y="379.3" width="72" height="25.3" fill="#fff"/>
<rect x="1996.4" y="379.3" width="86.7" height="25.3" fill="#fff"/>
</g><g text-anchor="middle">
<text transform="translate(381.2,21.7) scale(1,1.0)">abstractch.h</text>
<text transform="translate(281.2,96.3) scale(1,1.0)">abstractin.h</text>
<text transform="translate(1567.9,96.3) scale(1,1.0)">abstractout.h</text>
<text transform="translate(281.3,171) scale(1,1.0)">in_ccs811_hdc1080.h</text>
<text transform="translate(1198.6,171) scale(1,1.0)">item.h</text>
<text transform="translate(281,245.7) scale(1,1.0)">inputs.h</text>
<text transform="translate(671.9,245.7) scale(1,1.0)">utils.h</text>
<text transform="translate(1049.3,245.7) scale(1,1.0)">dmx.cpp</text>
<text transform="translate(1567.9,245.7) scale(1,1.0)">colorchannel.h</text>
<text transform="translate(1950.5,245.7) scale(1,1.0)">out_modbus.h</text>
<text transform="translate(806.8,320.3) scale(1,1.0)">main.h</text>
<text transform="translate(1306.5,320.3) scale(1,1.0)">out_motor.h</text>
<text transform="translate(1417,320.3) scale(1,1.0)">out_dmx.h</text>
<text transform="translate(1678.5,320.3) scale(1,1.0)">out_pwm.h</text>
<text transform="translate(1791.7,320.3) scale(1,1.0)">out_spiled.h</text>
<text transform="translate(2113.3,320.3) scale(1,1.0)">out_ac.h</text>
<text transform="translate(57.3,395) scale(1,1.0)">abstractin.cpp</text>
<text transform="translate(214.8,395) scale(1,1.0)">in_ccs811_hdc1080.cpp</text>
<text transform="translate(361.3,395) scale(1,1.0)">inputs.cpp</text>
<text transform="translate(481.3,395) scale(1,1.0)">abstractch.cpp</text>
<text transform="translate(606.4,395) scale(1,1.0)">owTerm.cpp</text>
<text transform="translate(713,395) scale(1,1.0)">utils.cpp</text>
<text transform="translate(810.5,395) scale(1,1.0)">main.cpp</text>
<text transform="translate(922.4,395) scale(1,1.0)">itemCmd.cpp</text>
<text transform="translate(1049.2,395) scale(1,1.0)">out_motor.cpp</text>
<text transform="translate(1185.2,395) scale(1,1.0)">colorchannel.cpp</text>
<text transform="translate(1318.7,395) scale(1,1.0)">out_dmx.cpp</text>
<text transform="translate(1441.3,395) scale(1,1.0)">out_pwm.cpp</text>
<text transform="translate(1569.1,395) scale(1,1.0)">out_spiled.cpp</text>
<text transform="translate(1706.5,395) scale(1,1.0)">out_modbus.cpp</text>
<text transform="translate(1826.5,395) scale(1,1.0)">item.cpp</text>
<text transform="translate(2039.7,395) scale(1,1.0)">out_ac.cpp</text>
</g></svg></body></html>
